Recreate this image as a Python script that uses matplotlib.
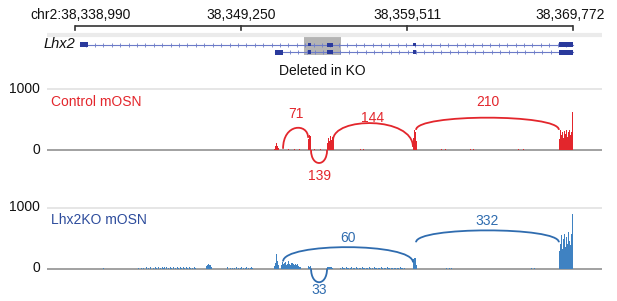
import matplotlib.pyplot as plt
import numpy as np
from matplotlib.path import Path
from matplotlib.patches import PathPatch

plt.rcParams['font.family'] = ['Liberation Sans', 'DejaVu Sans']

# ---- data ----
ruler_ticks = [38338990, 38349250, 38359511, 38369772]
ruler_labels = ['chr2:38,338,990', '38,349,250', '38,359,511', '38,369,772']

tx1_exons = [(38339300, 38339800), (38353400, 38353580), (38354570, 38354940),
             (38359880, 38360070), (38368900, 38369770)]
tx2_exons = [(38351350, 38351850), (38353400, 38353580), (38354570, 38354940),
             (38359880, 38360070), (38368900, 38369770)]
deleted_region = (38353140, 38355430)

BIN = 60
# coverage blocks: (start, heights per 60 bp bin)
ctrl_cov = [
    (38351290, [20, 60, 120, 70, 25]),
    (38351900, [0, 8, 0, 0, 10, 0, 0, 6, 0, 0, 12, 0, 0, 8, 0, 0, 10, 0, 0, 6, 0, 0, 8]),
    (38353400, [180, 250, 230]),
    (38353700, [0, 10, 0, 0, 8, 0, 0, 12, 0, 0, 6, 0, 0, 8]),
    (38354560, [120, 200, 150, 230, 170, 210, 190]),
    (38356600, [20, 0, 0, 10]),
    (38359860, [200, 330, 300, 150]),
    (38361600, [15, 0, 0, 0, 10]),
    (38363400, [12, 0, 0, 20, 0, 0, 8]),
    (38366400, [10, 0, 0, 0, 0, 14]),
    (38368900, [180, 330, 250, 300, 200, 310, 260, 330, 220, 290, 320, 240, 300, 350, 620]),
]
ko_cov = [
    (38340700, [8]),
    (38342900, [10, 0, 0, 12, 0, 15, 0, 0, 20, 0, 10, 0, 25, 0, 0, 15, 0, 30, 10, 0, 20,
                0, 15, 0, 25, 0, 10, 20, 0, 30, 0, 15, 0, 20, 10, 0, 25, 0, 15, 0, 20,
                10, 0, 30, 15, 0, 20, 10, 0, 25, 15, 0, 20, 10, 0, 15, 0, 20, 10, 0]),
    (38347100, [40, 60, 70, 60, 50, 30]),
    (38348400, [30, 0, 0, 10, 0, 15, 0, 10, 0, 20, 0, 15, 0, 10, 20, 0, 15, 0, 10, 25,
                0, 15, 0, 10, 20, 0, 15]),
    (38351290, [40, 90, 230, 120, 50]),
    (38351700, [60, 110, 80, 90, 70, 100, 60, 80, 115, 70, 60, 85, 95, 70, 60, 80, 50,
                70, 40, 30, 20]),
    (38353400, [40, 30, 40]),
    (38354560, [20, 30, 25, 30, 20, 15]),
    (38355400, [15, 0, 20, 10, 15, 0, 20, 15, 10, 0, 15, 20, 0, 10, 15, 0, 20, 10, 0,
                15, 10, 0, 20, 15, 10, 0, 15, 10, 0, 20, 10, 0, 15, 10, 0, 20, 15, 10,
                0, 15, 10, 0, 20, 10, 0, 15, 10, 0, 20, 15, 10, 0, 15, 10, 0, 15, 10,
                0, 15, 10, 0, 20, 15, 10, 0, 15]),
    (38359860, [150, 180, 170, 60]),
    (38361900, [12, 0, 0, 10, 0, 0, 15]),
    (38367200, [10, 0, 0, 12]),
    (38368900, [280, 400, 550, 320, 480, 570, 350, 520, 400, 600, 450, 380, 560, 420, 900]),
]

# junctions: (start, end, count)
ctrl_junc = [(38351850, 38353400, 71), (38353580, 38354570, 139),
             (38354940, 38359880, 144), (38360070, 38368900, 210)]
ko_junc = [(38351850, 38359880, 60), (38353580, 38354570, 33),
           (38360070, 38368900, 332)]

# arc layout: (y at start, y at end, peak, label y)
ctrl_arc_layout = [(20, 200, 360, 582), (0, 0, -213, -426),
                   (160, 50, 440, 525), (330, 330, 530, 787)]
ko_arc_layout = [(115, 100, 350, 505), (0, 0, -225, -352),
                 (430, 430, 625, 784)]

RED = '#e3262c'
BLUE_COV = '#3f82c2'
BLUE_ARC = '#2f6caf'
BLUE_TXT = '#2d4c9c'
EXON = '#2a3a9c'
INTRON = '#6c7bc8'

W, H = 617, 301
XLIM = (38337259, 38371565)

fig = plt.figure(figsize=(W / 100, H / 100), dpi=100)


def px_axes(left, top, width, height):
    ax = fig.add_axes([left / W, 1 - (top + height) / H, width / W, height / H])
    ax.set_xlim(*XLIM)
    ax.axis('off')
    return ax


# ---- ruler and gene track ----
ax = px_axes(47, 0, 555, 82)
ax.set_ylim(82, 0)
ax.plot([ruler_ticks[0], ruler_ticks[-1]], [25.5, 25.5], color='#333333', lw=1.2,
        solid_capstyle='butt')
label_shift = [370, 0, 0, -150]
for t, lab, sh in zip(ruler_ticks, ruler_labels, label_shift):
    ax.plot([t, t], [25.5, 29.5], color='#333333', lw=1.2)
    ax.text(t + sh, 15, lab, ha='center', va='center', fontsize=10, color='#111111')
ax.plot(XLIM, [35, 35], color='#ebebeb', lw=3, solid_capstyle='butt')

ax.add_patch(plt.Rectangle((deleted_region[0], 37), deleted_region[1] - deleted_region[0], 18,
                           color='#b4b4b4', lw=0, zorder=1))
for exons, y in [(tx1_exons, 44.5), (tx2_exons, 52)]:
    x0, x1 = exons[0][0], exons[-1][1]
    ax.plot([x0, x1], [y, y], color=INTRON, lw=0.8, zorder=2)
    ticks = np.arange(x0 + 400, x1 - 400, 520)
    ax.plot(ticks, [y] * len(ticks), ls='none', marker='|', ms=2.5, mew=0.6,
            color=INTRON, zorder=2)
    for i, (s, e) in enumerate(exons):
        hgt = 5 if (i == 0 or i == len(exons) - 1) else 4
        if e - s < 250:
            hgt = 3.5
        ax.add_patch(plt.Rectangle((s, y - hgt / 2), e - s, hgt, color=EXON, lw=0, zorder=3))
ax.text(38339000, 44.5, 'Lhx2', ha='right', va='center', fontsize=10.5, style='italic',
        color='#111111')
ax.text(sum(deleted_region) / 2, 71, 'Deleted in KO', ha='center', va='center',
        fontsize=10, color='#111111')


def arc(ax, x0, x1, y0, y1, peak, color):
    h = (peak - 0.125 * (y0 + y1)) / 0.75
    verts = [(x0, y0), (x0, h), (x1, h), (x1, y1)]
    p = Path(verts, [Path.MOVETO, Path.CURVE4, Path.CURVE4, Path.CURVE4])
    ax.add_patch(PathPatch(p, fc='none', ec=color, lw=1.3, clip_on=False, zorder=4))


def sashimi(top, cov, junc, layout, cov_color, arc_color, title, title_color):
    ax = px_axes(47, top, 555, 100)
    span = 100 / 61 * 1000
    ymax = 1000 + 5 / 61 * 1000
    ax.set_ylim(ymax - span, ymax)
    ax.plot(XLIM, [1000, 1000], color='#e2e2e2', lw=1.2)
    ax.plot(XLIM, [0, 0], color='#9a9a9a', lw=1.3, zorder=2)
    for lab_y, lab in [(1000, '1000'), (0, '0')]:
        ax.text(XLIM[0] - 420, lab_y, lab, ha='right', va='center', fontsize=10,
                color='#111111', clip_on=False)
    for start, hs in cov:
        xs = start + BIN * np.arange(len(hs))
        ax.bar(xs, hs, width=BIN, align='edge', color=cov_color, lw=0, zorder=3)
    for (s, e, n), (y0, y1, peak, ly) in zip(junc, layout):
        arc(ax, s, e, y0, y1, peak, arc_color)
        ax.text((s + e) / 2, ly, str(n), ha='center', va='center', fontsize=10,
                color=arc_color, clip_on=False)
    ax.text(38337500, 790, title, ha='left', va='center', fontsize=10, color=title_color)
    return ax


sashimi(84, ctrl_cov, ctrl_junc, ctrl_arc_layout, RED, RED, 'Control mOSN', RED)
sashimi(202.5, ko_cov, ko_junc, ko_arc_layout, BLUE_COV, BLUE_ARC, 'Lhx2KO mOSN', BLUE_TXT)

fig.savefig('out.png', dpi=100)
